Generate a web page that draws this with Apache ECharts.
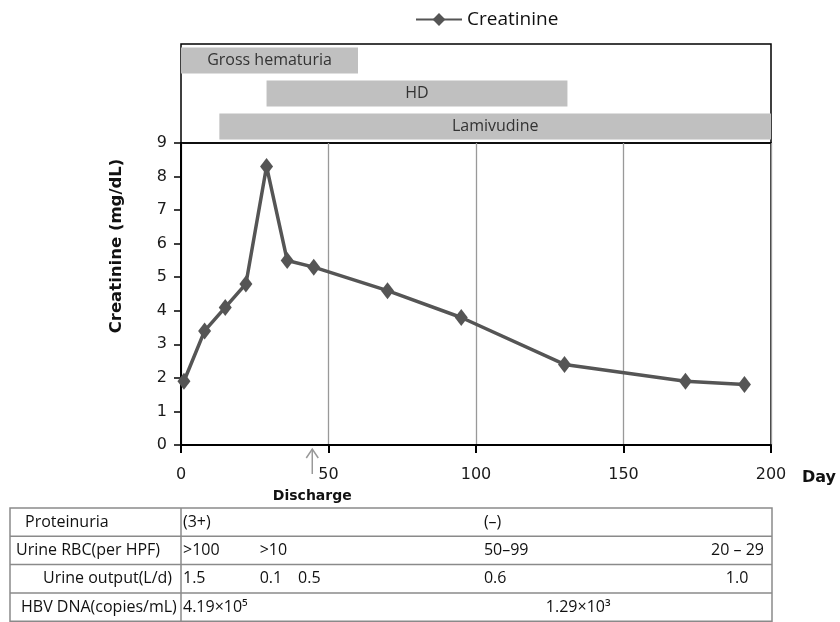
<!DOCTYPE html>
<html><head><meta charset="utf-8">
<script src="https://cdn.jsdelivr.net/npm/echarts@6/dist/echarts.min.js"></script>
<style>html,body{margin:0;padding:0;background:#fff}#c{width:840px;height:622px}</style>
</head><body><div id="c"></div>
<script>
// ---- data ----
const days = [1, 8, 15, 22, 29, 36, 45, 70, 95, 130, 171, 191];
const creatinine = [1.9, 3.4, 4.1, 4.8, 8.3, 5.5, 5.3, 4.6, 3.8, 2.4, 1.9, 1.8];
const xTicks = [0, 50, 100, 150, 200];
const yTicks = [0, 1, 2, 3, 4, 5, 6, 7, 8, 9];
const therapyNames = ['Gross hematuria', 'HD', 'Lamivudine'];
const therapyStart = [0, 29, 13];
const therapyEnd = [60, 131, 200];
const dischargeDay = 44.5;
const tableRowLabels = ['Proteinuria', 'Urine RBC(per HPF)', 'Urine output(L/d)', 'HBV DNA(copies/mL)'];
const proteinuriaDays = [0, 102];
const proteinuriaText = ['(3+)', '(–)'];
const rbcDays = [0, 26, 102, 179];
const rbcText = ['>100', '>10', '50–99', '20 – 29'];
const outputDays = [0, 26, 39, 102, 184];
const outputText = ['1.5', '0.1', '0.5', '0.6', '1.0'];
const hbvDays = [0, 123];
const hbvText = ['4.19×10⁵', '1.29×10³'];

const chart = echarts.init(document.getElementById('c'), null, {renderer: 'canvas'});
const G = {left: 181, right: 69};
const option = {
  animation: false,
  backgroundColor: '#fff',
  legend: {
    data: ['Creatinine'], top: 5, left: 410, itemWidth: 46, itemHeight: 16, itemGap: 8,
    textStyle: {fontFamily: 'Open Sans', fontSize: 19, color: '#111'}
  },
  grid: [
    {left: G.left, right: G.right, top: 143, bottom: 177, show: true, borderColor: '#000', borderWidth: 1.5},
    {left: G.left, right: G.right, top: 44, height: 99, show: true, borderColor: '#000', borderWidth: 1.5}
  ],
  xAxis: [
    {type: 'value', gridIndex: 0, min: xTicks[0], max: xTicks[xTicks.length - 1], interval: 50,
     axisLine: {show: true, onZero: false, lineStyle: {color: '#000', width: 2}},
     axisTick: {show: true, length: 8, lineStyle: {color: '#000', width: 2}},
     axisLabel: {margin: 22, fontFamily: 'DejaVu Sans', fontSize: 16, color: '#1a1a1a'},
     splitLine: {show: true, lineStyle: {color: '#999', width: 1.3}}},
    {type: 'value', gridIndex: 1, min: 0, max: 200, show: false}
  ],
  yAxis: [
    {type: 'value', gridIndex: 0, min: yTicks[0], max: yTicks[yTicks.length - 1], interval: 1,
     axisLine: {show: true, lineStyle: {color: '#000', width: 2}},
     axisTick: {show: true, length: 7, lineStyle: {color: '#000', width: 1.5}},
     axisLabel: {margin: 14, fontFamily: 'DejaVu Sans', fontSize: 16, color: '#1a1a1a'},
     splitLine: {show: false}},
    {type: 'category', gridIndex: 1, data: therapyNames, inverse: true, show: false}
  ],
  series: [
    {name: 'Creatinine', type: 'line', xAxisIndex: 0, yAxisIndex: 0,
     data: days.map((d, i) => [d, creatinine[i]]),
     symbol: 'diamond', symbolSize: [13, 17],
     lineStyle: {color: '#555', width: 3.5}, itemStyle: {color: '#555'}},
    {type: 'bar', xAxisIndex: 1, yAxisIndex: 1, stack: 't', data: therapyStart, barWidth: 26,
     itemStyle: {color: 'rgba(0,0,0,0)'}, silent: true},
    {type: 'bar', xAxisIndex: 1, yAxisIndex: 1, stack: 't', barWidth: 26,
     data: therapyEnd.map((e, i) => e - therapyStart[i]),
     itemStyle: {color: '#c0c0c0'},
     label: {show: true, position: 'inside', formatter: p => therapyNames[p.dataIndex],
             color: '#333', fontFamily: 'Open Sans', fontSize: 16}}
  ]
};
chart.setOption(option);

const px = d => chart.convertToPixel({xAxisIndex: 0}, d);
const g = [];
g.push({type: 'text', x: 117, y: 246, rotation: Math.PI / 2,
  style: {text: 'Creatinine (mg/dL)', font: 'bold 16.5px "DejaVu Sans"', fill: '#111', textAlign: 'center', textVerticalAlign: 'middle'}});
g.push({type: 'text', x: 802, y: 478,
  style: {text: 'Day', font: 'bold 16px "DejaVu Sans"', fill: '#111', textAlign: 'left', textVerticalAlign: 'middle'}});
const ax = px(dischargeDay);
g.push({type: 'polyline', shape: {points: [[ax, 474], [ax, 449]]}, style: {stroke: '#999', lineWidth: 1.5, fill: null}});
g.push({type: 'polyline', shape: {points: [[ax - 6, 458], [ax, 449], [ax + 6, 458]]}, style: {stroke: '#999', lineWidth: 1.5, fill: null}});
g.push({type: 'text', x: ax, y: 496,
  style: {text: 'Discharge', font: 'bold 14px "DejaVu Sans"', fill: '#111', textAlign: 'center', textVerticalAlign: 'middle'}});

// table
const tL = 10, tR = 772, tT = 508, rowH = 28.3, colX = px(0);
const tB = tT + rowH * 4;
const lineStyle = {stroke: '#8a8a8a', lineWidth: 1.5};
g.push({type: 'rect', shape: {x: tL, y: tT, width: tR - tL, height: tB - tT}, style: {stroke: '#8a8a8a', lineWidth: 1.5, fill: null}});
for (let r = 1; r < 4; r++) g.push({type: 'line', shape: {x1: tL, y1: tT + rowH * r, x2: tR, y2: tT + rowH * r}, style: lineStyle});
g.push({type: 'line', shape: {x1: colX, y1: tT, x2: colX, y2: tB}, style: lineStyle});
const labelX = [25, 16, 43, 21];
const tf = '16px "Open Sans"';
tableRowLabels.forEach((t, r) => g.push({type: 'text', x: labelX[r], y: tT + rowH * (r + 0.5),
  style: {text: t, font: tf, fill: '#111', textAlign: 'left', textVerticalAlign: 'middle'}}));
const rows = [[proteinuriaDays, proteinuriaText], [rbcDays, rbcText], [outputDays, outputText], [hbvDays, hbvText]];
rows.forEach(([ds, ts], r) => ds.forEach((d, i) => g.push({type: 'text', x: px(d) + 2, y: tT + rowH * (r + 0.5),
  style: {text: ts[i], font: tf, fill: '#111', textAlign: 'left', textVerticalAlign: 'middle'}})));
chart.setOption({graphic: g});
</script></body></html>
